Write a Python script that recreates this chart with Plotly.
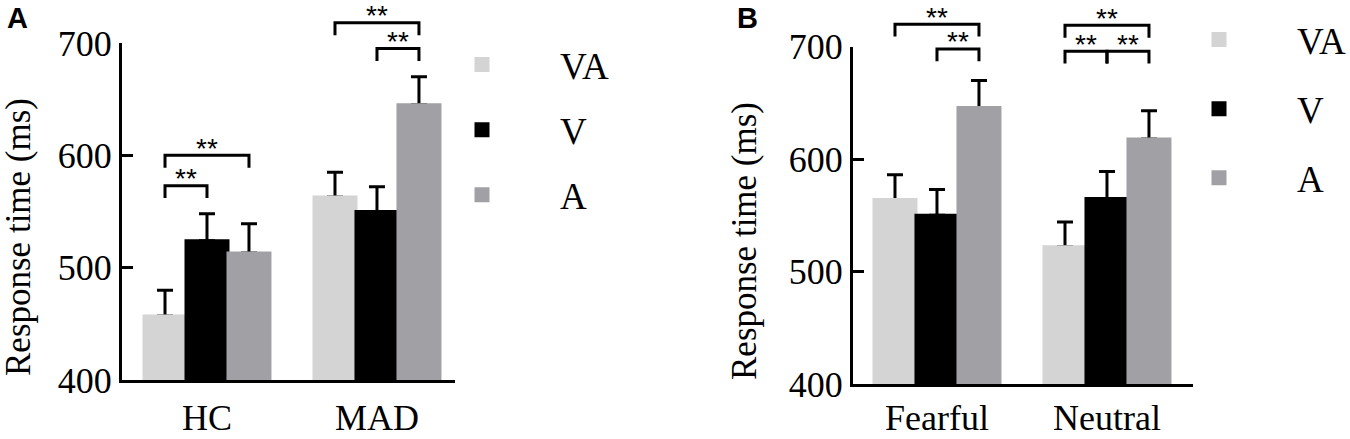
import plotly.graph_objects as go

# series (conditions) and their bar colours
series = ["VA", "V", "A"]
colors = {"VA": "#d4d4d4", "V": "#000000", "A": "#a1a1a5"}

# panel A: group x condition
groups_a = ["HC", "MAD"]
means_a = {"VA": [457, 563], "V": [524, 550], "A": [513, 645]}
sem_a = {"VA": [23, 22], "V": [24, 22], "A": [26, 25]}

# panel B: emotion x condition
groups_b = ["Fearful", "Neutral"]
means_b = {"VA": [564, 522], "V": [550, 565], "A": [646, 618]}
sem_b = {"VA": [22, 22], "V": [23, 24], "A": [24, 25]}

y_ticks = [400, 500, 600, 700]

# significance brackets: (group index, from series, to series, level in ms)
sig_a = [(0, "VA", "V", 573), (0, "VA", "A", 600), (1, "V", "A", 695), (1, "VA", "A", 718)]
sig_b = [(0, "V", "A", 698), (0, "VA", "A", 720), (1, "VA", "V", 696), (1, "V", "A", 696), (1, "VA", "A", 719)]

W, H = 1350, 439
BARGAP = 0.259
SERIF = "Liberation Serif"
SANS = "Liberation Sans"
Y0, Y1 = 400, 700

fig = go.Figure()

panels = [
    ("x", "y", "legend", groups_a, means_a, sem_a),
    ("x2", "y2", "legend2", groups_b, means_b, sem_b),
]
for xa, ya, leg, groups, means, sem in panels:
    # transparent bars that only carry the upward error bars
    for s in series:
        fig.add_trace(go.Bar(
            x=groups, y=means[s], xaxis=xa, yaxis=ya,
            marker=dict(color="rgba(0,0,0,0)"),
            error_y=dict(type="data", array=sem[s], arrayminus=[0] * len(groups),
                         symmetric=False, color="black", thickness=3, width=8),
            offsetgroup=s, legendgroup=leg + s, legend=leg,
            showlegend=False, hoverinfo="skip",
        ))
    for s in series:
        fig.add_trace(go.Bar(
            x=groups, y=means[s], xaxis=xa, yaxis=ya, name=s,
            marker=dict(color=colors[s], line=dict(color=colors[s], width=3)),
            offsetgroup=s, legendgroup=leg + s, legend=leg,
        ))

bw = (1 - BARGAP) / 3


def bar_center(gi, s):
    return gi + (series.index(s) - 1) * bw


shapes, annotations = [], []
for xa, sig in (("x", sig_a), ("x2", sig_b)):
    yd = xa.replace("x", "y") + " domain"
    for gi, s0, s1, lvl in sig:
        x0, x1 = bar_center(gi, s0), bar_center(gi, s1)
        top = (lvl - Y0) / (Y1 - Y0)
        drop = 11 / (Y1 - Y0)
        shapes.append(dict(
            type="path", xref=xa, yref=yd,
            path=f"M{x0},{top - drop} L{x0},{top} L{x1},{top} L{x1},{top - drop}",
            line=dict(color="black", width=3),
        ))
        annotations.append(dict(
            text="**", xref=xa, yref=yd, x=(x0 + x1) / 2, y=top,
            yanchor="middle", yshift=7, showarrow=False,
            font=dict(family=SANS, size=28, color="black"),
        ))

# axis titles and panel letters
for px, py in ((18, 237), (744, 241)):
    annotations.append(dict(
        text="Response time (ms)", xref="paper", yref="paper",
        x=px / W, y=1 - py / H, xanchor="center", yanchor="middle",
        textangle=-90, showarrow=False,
        font=dict(family=SERIF, size=35, color="black"),
    ))
for letter, px in (("A", 5), ("B", 735)):
    annotations.append(dict(
        text=f"<b>{letter}</b>", xref="paper", yref="paper",
        x=px / W, y=1.0, xanchor="left", yanchor="top", showarrow=False,
        font=dict(family=SANS, size=29, color="black"),
    ))

yaxis_style = dict(
    range=[Y0, Y1], tickvals=y_ticks, ticks="inside", ticklen=11, tickwidth=3,
    tickcolor="black", showline=True, linecolor="black", linewidth=3,
    showgrid=False, zeroline=False, automargin=False,
    tickfont=dict(family=SERIF, size=36, color="black"),
)
xaxis_style = dict(
    type="category", ticks="", showline=True, linecolor="black", linewidth=3,
    showgrid=False, zeroline=False, automargin=False,
    tickfont=dict(family=SERIF, size=36, color="black"),
)

legend_style = dict(
    xanchor="left", yanchor="top", bgcolor="rgba(0,0,0,0)",
    font=dict(family=SERIF, size=37, color="black"),
    traceorder="grouped", itemwidth=146,
)

fig.update_layout(
    template="none",
    width=W, height=H, margin=dict(l=0, r=0, t=0, b=0, autoexpand=False),
    paper_bgcolor="white", plot_bgcolor="white",
    barmode="group", bargap=BARGAP, bargroupgap=0,
    xaxis=dict(domain=[122 / W, 455 / W], range=[-0.5, 1.459], anchor="y",
               ticklabelstandoff=4, **xaxis_style),
    yaxis=dict(domain=[(H - 380) / H, (H - 43) / H], anchor="x", **yaxis_style),
    xaxis2=dict(domain=[853 / W, 1193 / W], range=[-0.494, 1.506], anchor="y2",
                ticklabelstandoff=0, **xaxis_style),
    yaxis2=dict(domain=[(H - 384) / H, (H - 46.7) / H], anchor="x2", **yaxis_style),
    legend=dict(x=404 / W, y=1 - 34 / H, tracegroupgap=14, **legend_style),
    legend2=dict(x=1141 / W, y=1 - 9 / H, tracegroupgap=18, **legend_style),
    shapes=shapes, annotations=annotations,
)

fig.write_html("out.html", config={"displayModeBar": False},
               post_script="document.body.style.margin='0';")
